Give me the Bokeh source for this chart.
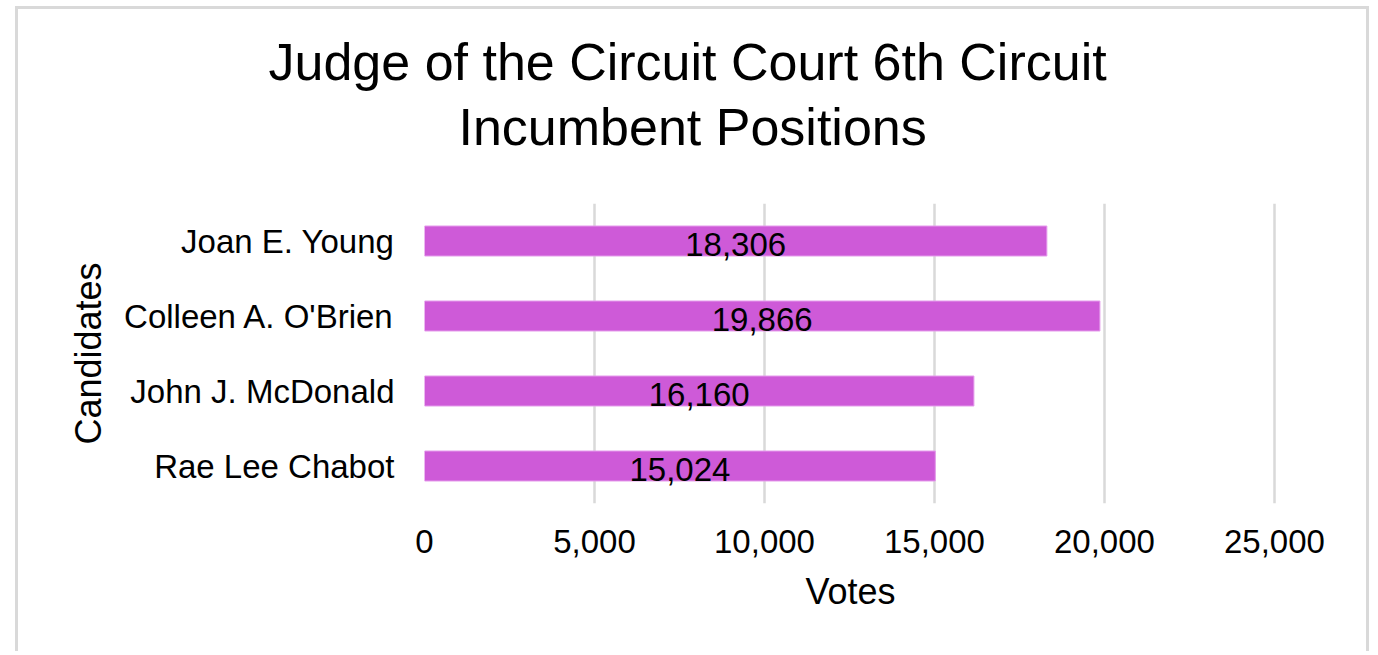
from bokeh.plotting import figure
from bokeh.models import ColumnDataSource, FactorRange, Range1d, FixedTicker, NumeralTickFormatter, LabelSet, Title
from bokeh.core.properties import value
from bokeh.embed import file_html
from bokeh.resources import INLINE

candidates = ["Joan E. Young", "Colleen A. O'Brien", "John J. McDonald", "Rae Lee Chabot"]
votes = [18306, 19866, 16160, 15024]
x_ticks = [0, 5000, 10000, 15000, 20000, 25000]
title_lines = ["Judge of the Circuit Court 6th Circuit", "Incumbent Positions"]

FONT = "Liberation Sans"

src = ColumnDataSource(dict(
    cand=candidates,
    votes=votes,
    half=[v / 2 for v in votes],
    lab=[f"{v:,}" for v in votes],
))

p = figure(
    width=1354, height=645,
    y_range=FactorRange(factors=candidates[::-1]),
    x_range=Range1d(0, 25060),
    output_backend="svg", toolbar_location=None,
    min_border_left=406, min_border_right=96, min_border_top=194, min_border_bottom=151,
)
p.margin = (6, 0, 0, 15)
p.styles = {
    "border-top": "3px solid #d9d9d9", "border-left": "3px solid #d9d9d9",
    "border-right": "3px solid #d9d9d9",
}
p.outline_line_color = None
p.background_fill_color = "white"
p.border_fill_color = "white"

p.hbar(y="cand", right="votes", left=0, height=0.4, source=src,
       fill_color="#CE5AD8", line_color="#E59BEC", line_width=1)

p.add_layout(LabelSet(x="half", y="cand", text="lab", source=src,
                      text_align="center", text_baseline="middle", y_offset=-3,
                      text_font=value(FONT), text_font_size=value("33px"),
                      text_color="#000000"))

# axes
p.xaxis.ticker = FixedTicker(ticks=x_ticks)
p.xaxis.formatter = NumeralTickFormatter(format="0,0")
for ax in (p.xaxis, p.yaxis):
    ax.axis_line_color = None
    ax.major_tick_line_color = None
    ax.minor_tick_line_color = None
    ax.major_tick_out = 0
    ax.major_tick_in = 0
    ax.major_label_text_font = FONT
    ax.major_label_text_font_size = "33px"
    ax.major_label_text_color = "#000000"
    ax.axis_label_text_font = FONT
    ax.axis_label_text_font_size = "36px"
    ax.axis_label_text_font_style = "normal"
    ax.axis_label_text_color = "#000000"

p.xaxis.axis_label = "Votes"
p.xaxis.major_label_standoff = 26
p.xaxis.axis_label_standoff = 15
p.yaxis.axis_label = "Candidates"
p.yaxis.major_label_standoff = 30
p.yaxis.axis_label_standoff = 12

p.xgrid.grid_line_color = "#d9d9d9"
p.xgrid.grid_line_width = 2.5
p.ygrid.grid_line_color = None

# title: spacer (closest to frame), then line 2, then line 1
p.add_layout(Title(text=" ", text_font=FONT, text_font_size="28px"), "above")
p.add_layout(Title(text=title_lines[1], align="left", offset=34,
                   text_font=FONT, text_font_size="52px", text_font_style="normal",
                   text_color="#000000"), "above")
p.add_layout(Title(text=title_lines[0], align="left", offset=-156, standoff=0,
                   text_font=FONT, text_font_size="52px", text_font_style="normal",
                   text_color="#000000"), "above")

open("out.html", "w").write(file_html(p, INLINE))
